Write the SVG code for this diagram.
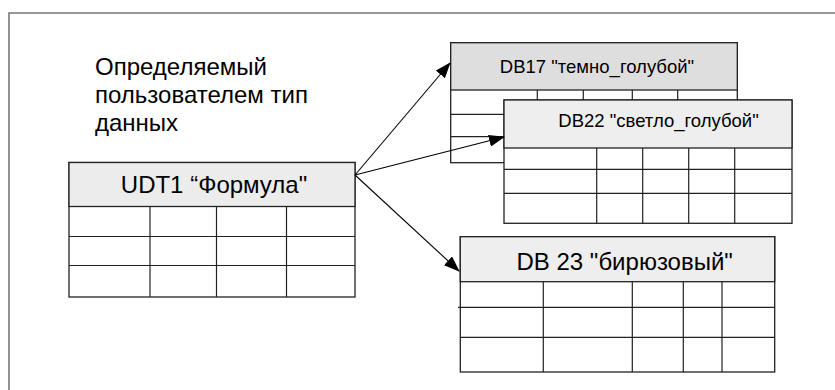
<svg xmlns="http://www.w3.org/2000/svg" width="835" height="390" viewBox="0 0 835 390">
<defs>
<style>
.t{font-family:"Liberation Sans",Arial,sans-serif;fill:#000}
.box{fill:#fff;stroke:#222;stroke-width:1.3}
.hd{stroke:#222;stroke-width:1.3}
.g{stroke:#222;stroke-width:1.2;fill:none}
.c{stroke:#000;stroke-width:1.1;fill:none}
</style>
<marker id="ah" markerWidth="16" markerHeight="12" refX="15" refY="6" orient="auto" markerUnits="userSpaceOnUse">
<path d="M0,0 L16,6 L0,12 Z" fill="#000"/>
</marker>
</defs>
<rect width="835" height="390" fill="#fff"/>
<path d="M9,390 V13 H835" fill="none" stroke="#777" stroke-width="1.6"/>
<g id="label">
<text class="t" font-size="24" x="95" y="75">Определяемый</text>
<text class="t" font-size="24" x="95" y="103">пользователем тип</text>
<text class="t" font-size="24" x="95" y="130.5">данных</text>
</g>
<g id="udt1">
<rect class="box" x="69" y="162.5" width="286" height="134.5"/>
<rect class="hd" x="69" y="162.5" width="286" height="44" fill="#ececec"/>
<path class="g" d="M69,236.5 H355 M69,265.5 H355 M150,206.5 V297 M216.5,206.5 V297 M286.5,206.5 V297"/>
<text class="t" font-size="24" x="214" y="193" text-anchor="middle">UDT1 “Формула"</text>
</g>
<g id="db17">
<rect class="box" x="450.7" y="42.7" width="286.6" height="120"/>
<rect class="hd" x="450.7" y="42.7" width="286.6" height="47.3" fill="#dedede"/>
<path class="g" d="M450.7,114.3 H737 M450.7,136.7 H737 M537.3,90 V163 M583.3,90 V163 M632.3,90 V163 M677.7,90 V163"/>
<text class="t" font-size="18.5" x="597" y="73.3" text-anchor="middle">DB17 "темно_голубой"</text>
</g>
<g id="db22">
<rect class="box" x="504" y="100" width="288" height="123.3"/>
<rect class="hd" x="504" y="100" width="288" height="48" fill="#eeeeee"/>
<path class="g" d="M504,169.3 H792 M504,193.3 H792 M596.7,148 V223.3 M642.7,148 V223.3 M688.7,148 V223.3 M734.7,148 V223.3"/>
<text class="t" font-size="18.5" x="558.3" y="126.7">DB22 "светло_голубой"</text>
</g>
<g id="db23">
<rect class="box" x="460.3" y="236.7" width="314.4" height="135.3"/>
<rect class="hd" x="460.3" y="236.7" width="314.4" height="45" fill="#eeeeee"/>
<path class="g" d="M458,307.3 H774.7 M460.3,337.3 H774.7 M543.3,281.7 V372 M632.3,281.7 V372 M683.3,281.7 V372 M722,281.7 V372"/>
<text class="t" font-size="24" x="624.7" y="270" text-anchor="middle">DB 23 "бирюзовый"</text>
</g>
<g id="connectors">
<line class="c" x1="355" y1="175" x2="450" y2="63" marker-end="url(#ah)"/>
<line class="c" x1="355" y1="175" x2="504" y2="137" marker-end="url(#ah)"/>
<line class="c" x1="355" y1="175" x2="459" y2="271" marker-end="url(#ah)"/>
</g>
</svg>
